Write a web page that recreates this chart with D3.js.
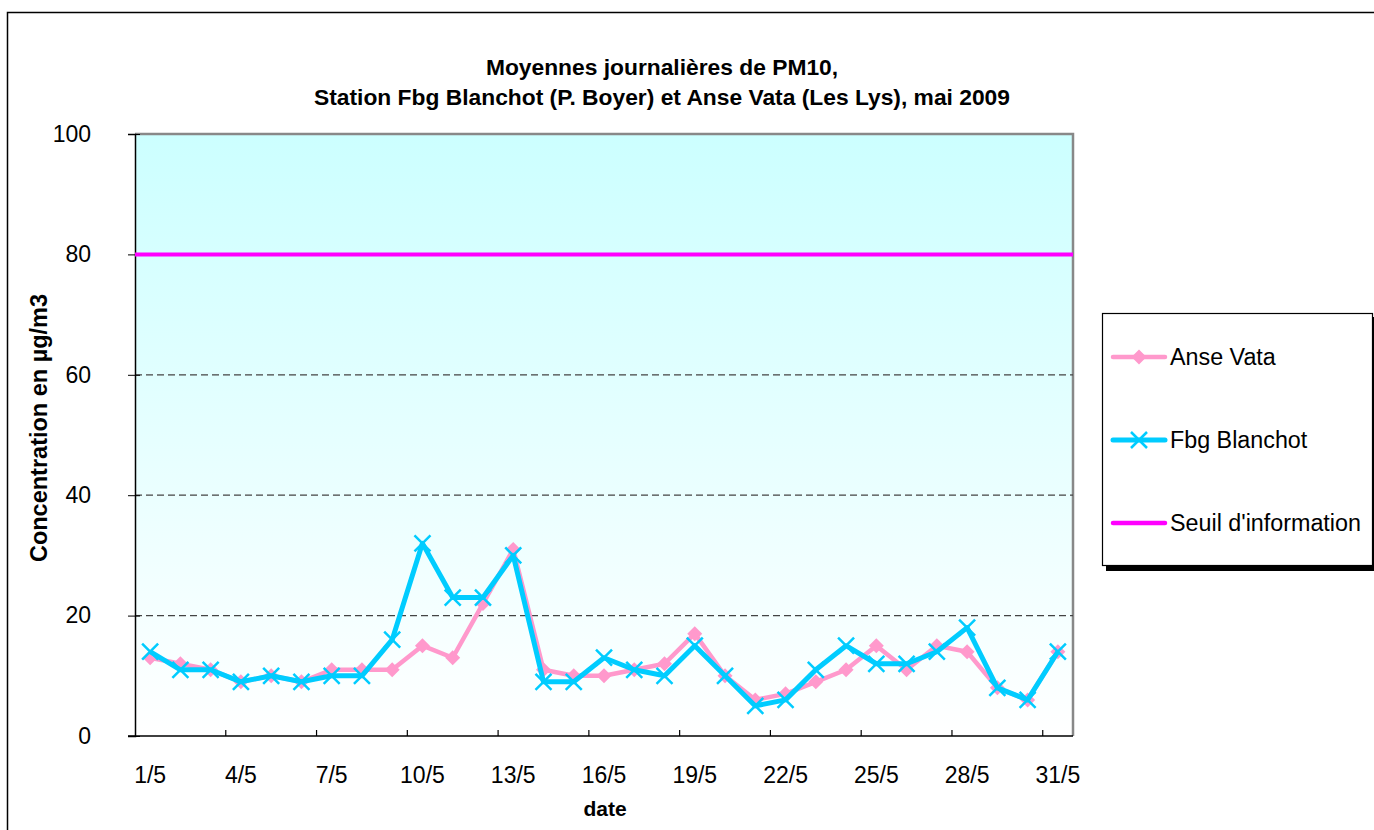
<!DOCTYPE html>
<html>
<head>
<meta charset="utf-8" />
<title>PM10 mai 2009</title>
<style>
html, body {
    margin: 0;
    padding: 0;
    background: #fff;
}
svg text {
    font-family: Arial, "Liberation Sans", sans-serif;
}
</style>
</head>
<body>
<div id="chart"></div>
<script src="https://cdnjs.cloudflare.com/ajax/libs/d3/7.8.5/d3.min.js"></script>
<script>
// jours de mai 2009
var days = d3.range(1, 32).map(function(d) { return d + "/5" })
var anseVata = [13, 12, 11, 9, 10, 9, 11, 11, 11, 15, 13, 22, 31, 11, 10, 10, 11, 12, 17, 10,
                6, 7, 9, 11, 15, 11, 15, 14, 8, 6, 14]
var fbgBlanchot = [14, 11, 11, 9, 10, 9, 10, 10, 16, 32, 23, 23, 30, 9, 9, 13, 11, 10, 15, 10,
                   5, 6, 11, 15, 12, 12, 14, 18, 8, 6, 14]
var seuil = 80
var yTicks = [0, 20, 40, 60, 80, 100]
var gridValues = [20, 40, 60]
var seriesNames = ["Anse Vata", "Fbg Blanchot", "Seuil d'information"]

var W = 1374, H = 830
var margin = {left: 135, top: 134, right: 1073, bottom: 736}

var svg = d3.select("#chart").append("svg")
    .attr("width", W).attr("height", H)

// outer chart border (runs off the right and bottom edges)
svg.append("rect")
    .attr("x", 7.5).attr("y", 12.5)
    .attr("width", W + 20).attr("height", H + 20)
    .attr("fill", "#fff").attr("stroke", "#000").attr("stroke-width", 1.5)

var grad = svg.append("defs").append("linearGradient")
    .attr("id", "bg").attr("x1", 0).attr("y1", 0).attr("x2", 0).attr("y2", 1)
grad.append("stop").attr("offset", "0%").attr("stop-color", "#ccffff")
grad.append("stop").attr("offset", "100%").attr("stop-color", "#ffffff")

var x = d3.scaleBand().domain(days).range([margin.left, margin.right])
var y = d3.scaleLinear().domain([0, 100]).range([margin.bottom, margin.top])
var cx = function(i) { return x(days[i]) + x.bandwidth() / 2 }

// plot area
svg.append("rect")
    .attr("x", margin.left).attr("y", margin.top)
    .attr("width", margin.right - margin.left).attr("height", margin.bottom - margin.top)
    .attr("fill", "url(#bg)")
svg.append("path")
    .attr("d", "M" + margin.left + "," + margin.top + "H" + margin.right + "V" + margin.bottom)
    .attr("fill", "none").attr("stroke", "#888").attr("stroke-width", 2.5)

// dashed gridlines
svg.selectAll(".grid").data(gridValues).enter().append("line")
    .attr("x1", margin.left).attr("x2", margin.right)
    .attr("y1", function(d) { return y(d) }).attr("y2", function(d) { return y(d) })
    .attr("stroke", "#444").attr("stroke-width", 1.3).attr("stroke-dasharray", "7,4")

// y axis
var yAxis = svg.append("g").attr("transform", "translate(" + margin.left + ",0)")
    .call(d3.axisLeft(y).tickValues(yTicks).tickSize(7).tickPadding(37))
yAxis.select(".domain").attr("stroke", "#000").attr("stroke-width", 1.5)
yAxis.selectAll(".tick line").clone().attr("x2", 5)
yAxis.selectAll(".tick text").attr("font-size", 23).attr("fill", "#000")
yAxis.attr("font-family", null)

// x axis: ticks between categories every 3 days
var xAxis = svg.append("g").attr("transform", "translate(0," + margin.bottom + ")")
    .call(d3.axisBottom(x).tickValues(days.filter(function(d, i) { return i % 3 === 0 }))
        .tickSize(0).tickPadding(39))
xAxis.select(".domain").attr("stroke", "#000").attr("stroke-width", 1.5)
    .attr("d", "M" + (margin.left - 7) + ",0H" + margin.right)
xAxis.selectAll(".tick text").attr("font-size", 23).attr("fill", "#000").attr("dy", "0.35em")
xAxis.attr("font-family", null)
svg.selectAll(".xtick").data(d3.range(3, 31, 3)).enter().append("line")
    .attr("x1", function(i) { return x(days[i]) }).attr("x2", function(i) { return x(days[i]) })
    .attr("y1", margin.bottom).attr("y2", margin.bottom - 6)
    .attr("stroke", "#000").attr("stroke-width", 1.2)

// seuil
svg.append("line")
    .attr("x1", margin.left).attr("x2", margin.right)
    .attr("y1", y(seuil)).attr("y2", y(seuil))
    .attr("stroke", "#ff00ff").attr("stroke-width", 4)

var line = d3.line().x(function(d, i) { return cx(i) }).y(function(d) { return y(d) })

// Anse Vata
svg.append("path").datum(anseVata).attr("d", line)
    .attr("fill", "none").attr("stroke", "#ff99cc").attr("stroke-width", 4.5).attr("stroke-linejoin", "round")
var diamond = "M0,-7.5L7.5,0L0,7.5L-7.5,0Z"
svg.selectAll(".av").data(anseVata).enter().append("path")
    .attr("d", diamond)
    .attr("transform", function(d, i) { return "translate(" + cx(i) + "," + y(d) + ")" })
    .attr("fill", "#ff99cc")

// Fbg Blanchot
svg.append("path").datum(fbgBlanchot).attr("d", line)
    .attr("fill", "none").attr("stroke", "#00ccff").attr("stroke-width", 5).attr("stroke-linejoin", "round")
var cross = function(s) { return "M" + (-s) + "," + (-s) + "L" + s + "," + s + "M" + (-s) + "," + s + "L" + s + "," + (-s) }
svg.selectAll(".fb").data(fbgBlanchot).enter().append("path")
    .attr("d", cross(8))
    .attr("transform", function(d, i) { return "translate(" + cx(i) + "," + y(d) + ")" })
    .attr("stroke", "#00ccff").attr("stroke-width", 2.5)

// titles
svg.append("text").attr("x", 662).attr("y", 75).attr("text-anchor", "middle")
    .attr("font-size", 22.8).attr("font-weight", "bold").text("Moyennes journalières de PM10,")
svg.append("text").attr("x", 662).attr("y", 105).attr("text-anchor", "middle")
    .attr("font-size", 22.8).attr("font-weight", "bold")
    .text("Station Fbg Blanchot (P. Boyer) et Anse Vata (Les Lys), mai 2009")
svg.append("text").attr("transform", "translate(47,428) rotate(-90)").attr("text-anchor", "middle")
    .attr("font-size", 23.5).attr("font-weight", "bold").text("Concentration en µg/m3")
svg.append("text").attr("x", 605).attr("y", 816).attr("text-anchor", "middle")
    .attr("font-size", 21).attr("font-weight", "bold").text("date")

// legend
var lg = svg.append("g")
lg.append("rect").attr("x", 1106).attr("y", 317).attr("width", 272).attr("height", 254).attr("fill", "#000")
lg.append("rect").attr("x", 1102.5).attr("y", 313.5).attr("width", 270).attr("height", 252)
    .attr("fill", "#fff").attr("stroke", "#000").attr("stroke-width", 1.2)
var legendY = [357, 440, 523]
var legendColors = ["#ff99cc", "#00ccff", "#ff00ff"]
seriesNames.forEach(function(name, i) {
    lg.append("line").attr("x1", 1113).attr("x2", 1165)
        .attr("y1", legendY[i]).attr("y2", legendY[i])
        .attr("stroke", legendColors[i]).attr("stroke-width", i === 1 ? 5 : 4.5)
        .attr("stroke-linecap", "round")
    lg.append("text").attr("x", 1170).attr("y", legendY[i]).attr("dy", "0.35em")
        .attr("font-size", 23.3).text(name)
})
lg.append("path").attr("d", diamond).attr("transform", "translate(1139," + legendY[0] + ")").attr("fill", "#ff99cc")
lg.append("path").attr("d", cross(8)).attr("transform", "translate(1139," + legendY[1] + ")")
    .attr("stroke", "#00ccff").attr("stroke-width", 2.5)
</script>
</body>
</html>
